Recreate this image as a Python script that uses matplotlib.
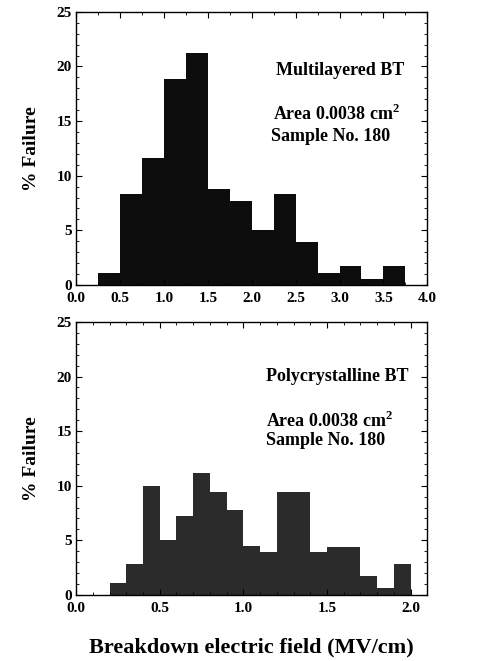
import matplotlib.pyplot as plt
from matplotlib.ticker import MultipleLocator

plt.rcParams['font.family'] = ['Liberation Serif', 'DejaVu Serif']
plt.rcParams['font.weight'] = 'bold'
plt.rcParams['mathtext.fontset'] = 'custom'
plt.rcParams['mathtext.bf'] = 'Liberation Serif:bold'
plt.rcParams['mathtext.rm'] = 'Liberation Serif:bold'

# top panel: multilayered BT, bins 0.25 MV/cm wide
multi_left = [0.25, 0.5, 0.75, 1.0, 1.25, 1.5, 1.75, 2.0, 2.25, 2.5, 2.75, 3.0, 3.25, 3.5]
multi_pct = [1.1, 8.3, 11.6, 18.9, 21.2, 8.8, 7.7, 5.0, 8.3, 3.9, 1.1, 1.7, 0.5, 1.7]

# bottom panel: polycrystalline BT, bins 0.1 MV/cm wide
poly_left = [0.2, 0.3, 0.4, 0.5, 0.6, 0.7, 0.8, 0.9, 1.0, 1.1, 1.2, 1.3, 1.4,
             1.5, 1.6, 1.7, 1.8, 1.9]
poly_pct = [1.1, 2.8, 10.0, 5.0, 7.2, 11.2, 9.4, 7.8, 4.5, 3.9, 9.4, 9.4, 3.9,
            4.4, 4.4, 1.7, 0.6, 2.8]

fig = plt.figure(figsize=(4.85, 6.61), dpi=100)
ax1 = fig.add_axes([0.157, 0.569, 0.724, 0.413])
ax2 = fig.add_axes([0.157, 0.100, 0.724, 0.413])

ax1.bar(multi_left, multi_pct, width=0.25, align='edge', color='#0d0d0d')
ax2.bar(poly_left, poly_pct, width=0.1, align='edge', color='#2b2b2b')


def style(ax, xmax, xminor):
    ax.set_xlim(0, xmax)
    ax.set_ylim(0, 25)
    ax.xaxis.set_major_locator(MultipleLocator(0.5))
    ax.yaxis.set_major_locator(MultipleLocator(5))
    ax.yaxis.set_minor_locator(MultipleLocator(1))
    ax.xaxis.set_minor_locator(MultipleLocator(xminor))
    ax.tick_params(which='both', direction='in', top=True, right=True,
                   labelsize=11)
    ax.tick_params(axis='x', pad=5)
    ax.tick_params(axis='y', pad=3)
    ax.tick_params(which='major', length=4)
    ax.tick_params(which='minor', length=2)
    ax.xaxis.set_major_formatter(plt.FuncFormatter(lambda v, p: f"{v:.1f}"))
    for s in ax.spines.values():
        s.set_linewidth(1.0)
    ax.set_ylabel("% Failure", fontsize=14, fontweight='bold', labelpad=12)


style(ax1, 4.0, 0.25)
style(ax2, 2.1, 0.1)

area = "Area 0.0038 cm$^{\\mathbf{2}}$"

ax1.text(0.57, 0.787, "Multilayered BT", transform=ax1.transAxes,
         ha='left', va='center', fontsize=13, fontweight='bold')
ax1.text(0.56, 0.626, area, transform=ax1.transAxes,
         ha='left', va='center', fontsize=13, fontweight='bold')
ax1.text(0.555, 0.542, "Sample No. 180", transform=ax1.transAxes,
         ha='left', va='center', fontsize=13, fontweight='bold')

ax2.text(0.54, 0.80, "Polycrystalline BT", transform=ax2.transAxes,
         ha='left', va='center', fontsize=13, fontweight='bold')
ax2.text(0.54, 0.637, area, transform=ax2.transAxes,
         ha='left', va='center', fontsize=13, fontweight='bold')
ax2.text(0.54, 0.564, "Sample No. 180", transform=ax2.transAxes,
         ha='left', va='center', fontsize=13, fontweight='bold')

ax2.set_xlabel("Breakdown electric field (MV/cm)", fontsize=16,
               fontweight='bold', labelpad=16)

fig.savefig("out.png", dpi=100)
